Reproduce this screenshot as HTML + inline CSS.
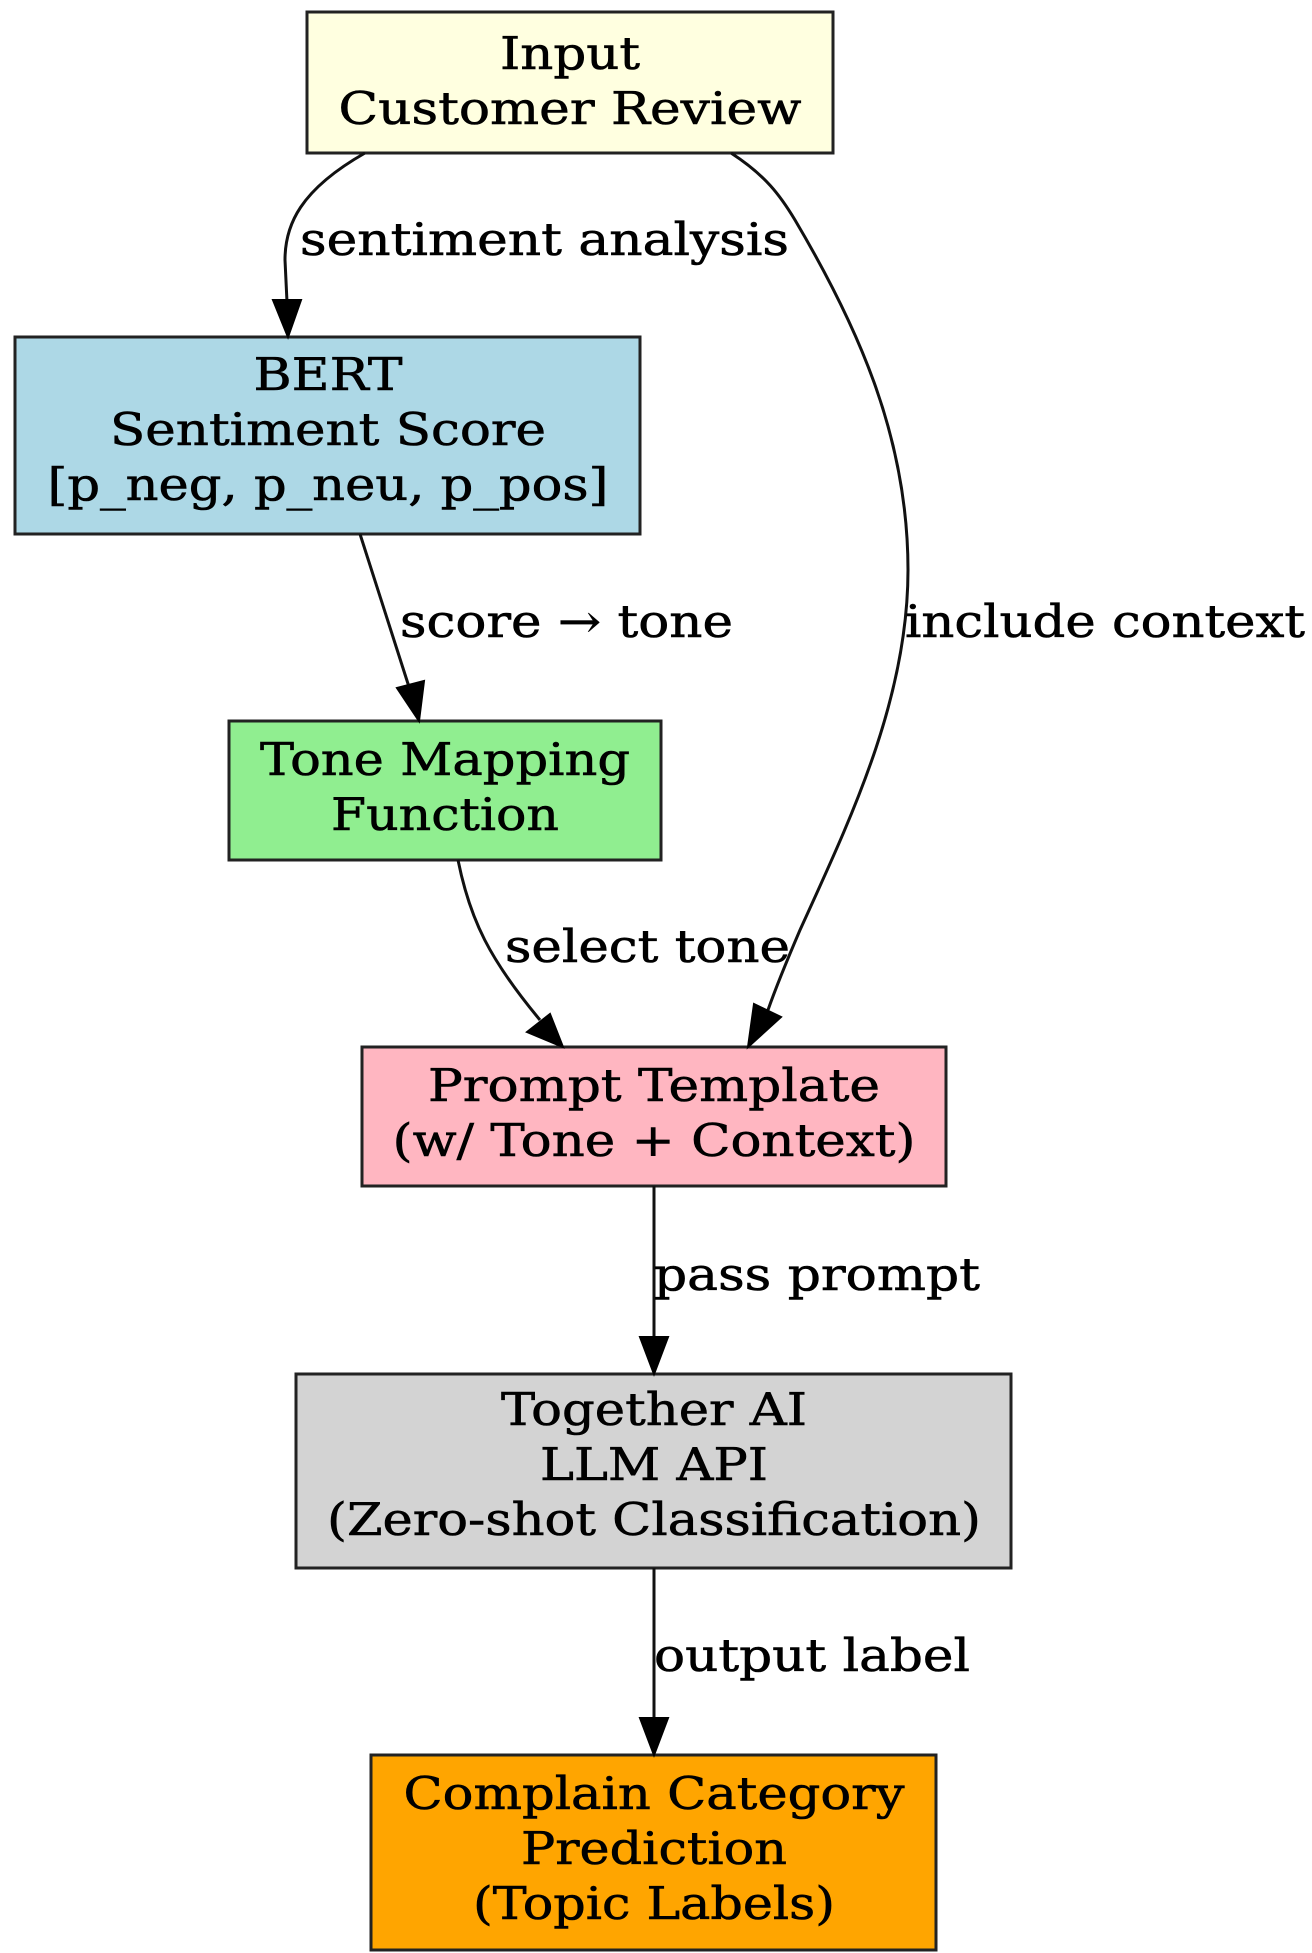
<!DOCTYPE html>
<html><head><meta charset="utf-8"><style>
html,body{margin:0;padding:0;background:#fff;width:1312px;height:1953px;overflow:hidden}
svg text{font-family:"DejaVu Serif","Liberation Serif",serif;font-size:45px;fill:#000;stroke:#000;stroke-width:0.6}
</style></head><body>
<svg width="1312" height="1953" viewBox="0 0 1312 1953" xmlns="http://www.w3.org/2000/svg">
<g stroke="#222" stroke-width="3">
<rect x="307" y="12" width="526" height="141" fill="#ffffe0"/>
<rect x="15" y="337" width="625" height="197" fill="#add8e6"/>
<rect x="229" y="721" width="432" height="139" fill="#90ee90"/>
<rect x="362" y="1047" width="584" height="139" fill="#ffb6c1"/>
<rect x="296" y="1374" width="715" height="194" fill="#d3d3d3"/>
<rect x="371" y="1755" width="565" height="195" fill="#ffa500"/>
</g>
<g fill="none" stroke="#111" stroke-width="3">
<path d="M365,153 C300,190 285,225 285,260 L287,302"/>
<path d="M360,534 L410,690"/>
<path d="M731,153 C765,175 780,195 795,220 C860,330 908,440 908,570 C908,700 850,820 800,930 C785,965 775,990 768,1010"/>
<path d="M458,860 C470,920 490,960 540,1020"/>
<path d="M654,1186 L654,1340"/>
<path d="M654,1568 L654,1720"/>
</g>
<g fill="#000" stroke="#000" stroke-width="2">
<polygon points="273,300 301,300 288,337"/>
<polygon points="397,688 424,681 419,721"/>
<polygon points="754,1004 781,1017 748,1047"/>
<polygon points="527,1032 550,1014 563,1047"/>
<polygon points="640,1337 668,1337 654,1374"/>
<polygon points="640,1718 668,1718 654,1755"/>
</g>
<g text-anchor="middle">
<text x="570" y="69" textLength="140" lengthAdjust="spacingAndGlyphs">Input</text>
<text x="570" y="124" textLength="463" lengthAdjust="spacingAndGlyphs">Customer Review</text>
<text x="328" y="390" textLength="149" lengthAdjust="spacingAndGlyphs">BERT</text>
<text x="328" y="445" textLength="436" lengthAdjust="spacingAndGlyphs">Sentiment Score</text>
<text x="328" y="500" textLength="561" lengthAdjust="spacingAndGlyphs">[p_neg, p_neu, p_pos]</text>
<text x="445" y="775" textLength="370" lengthAdjust="spacingAndGlyphs">Tone Mapping</text>
<text x="445" y="830" textLength="228" lengthAdjust="spacingAndGlyphs">Function</text>
<text x="654" y="1101" textLength="452" lengthAdjust="spacingAndGlyphs">Prompt Template</text>
<text x="654" y="1156" textLength="523" lengthAdjust="spacingAndGlyphs">(w/ Tone + Context)</text>
<text x="654" y="1425" textLength="306" lengthAdjust="spacingAndGlyphs">Together AI</text>
<text x="654" y="1480" textLength="228" lengthAdjust="spacingAndGlyphs">LLM API</text>
<text x="654" y="1535" textLength="654" lengthAdjust="spacingAndGlyphs">(Zero-shot Classification)</text>
<text x="654" y="1809" textLength="501" lengthAdjust="spacingAndGlyphs">Complain Category</text>
<text x="654" y="1864" textLength="266" lengthAdjust="spacingAndGlyphs">Prediction</text>
<text x="654" y="1919" textLength="362" lengthAdjust="spacingAndGlyphs">(Topic Labels)</text>
</g>
<g>
<text x="300" y="255" textLength="489" lengthAdjust="spacingAndGlyphs">sentiment analysis</text>
<text x="400" y="637" textLength="333" lengthAdjust="spacingAndGlyphs">score → tone</text>
<text x="905" y="637" textLength="400" lengthAdjust="spacingAndGlyphs">include context</text>
<text x="505" y="962" textLength="285" lengthAdjust="spacingAndGlyphs">select tone</text>
<text x="654" y="1290" textLength="326" lengthAdjust="spacingAndGlyphs">pass prompt</text>
<text x="654" y="1671" textLength="316" lengthAdjust="spacingAndGlyphs">output label</text>
</g>
</svg>
</body></html>
